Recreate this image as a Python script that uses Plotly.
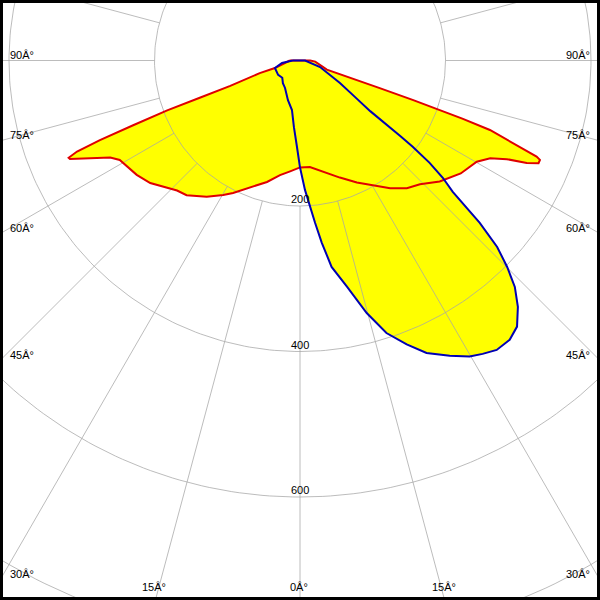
import numpy as np
import plotly.graph_objects as go

# ---------------- data (gamma in degrees, intensity in cd) ----------------
# C0-C180 plane (red), left half negative gamma
red_gamma = [-90, -80.5, -73.3, -72.6, -70.0, -69.6, -69.4, -68.8, -68.3, -67.8, -67.2, -66.8,
             -65.6, -62.9, -61.1, -58.7, -55.0, -50.7, -47.3, -43.4, -40.1, -34.4, -29.7,
             -26.8, -15.2, -9.9, -5.1, 0, 5.3, 11.7, 18.8, 25.0, 30.2, 35.2, 39.9, 44.1, 49.1,
             54.9, 60.2, 62.8, 64.5, 65.7, 66.7, 67.5, 67.9, 68.5, 69.9, 70.3, 70.5, 70.7,
             70.9, 71.2, 86, 90]
red_cd = [14, 21, 36, 58, 102, 147, 195, 246, 296, 331, 345, 344,
          327, 293, 283, 279, 274, 266, 256, 246, 242, 227, 213,
          204, 173, 160, 153, 147, 147, 156, 170, 185, 199, 215, 229, 237, 254,
          270, 280, 294, 315, 342, 357, 357, 351, 325, 278, 237, 201, 164,
          116, 39, 21, 14]

# C90-C270 plane (blue)
blue_gamma = [-90, -82, -73.3, -56.6, -45.8, -37.1, -28.6, -20.6, -16.9, -9.2, -5.2, -2.0, 0,
              2.2, 3.9, 5.3, 6.8, 8.7, 11.7, 14.8, 17.6, 20.6, 23.4, 26.9, 29.8, 31.9, 34.2,
              36.9, 39.2, 41.5, 43.5, 45.1, 46.6, 47.9, 49.3, 50.6, 51.7, 52.6, 53.0, 53.7,
              54.2, 56.4, 60.6, 72, 86, 90]
blue_cd = [10, 25, 36, 36, 34, 39, 43, 51, 57, 69, 92, 119, 147,
           178, 201, 224, 252, 287, 317, 359, 393, 417, 438, 455, 469, 475, 481,
           480, 472, 452, 429, 402, 373, 333, 277, 254, 227, 195, 172, 145,
           119, 91, 63, 29, 10, 7]

ring_values = [200, 400, 600, 800]
ring_labels = ["200", "400", "600"]
spoke_angles = list(range(0, 360, 15))
side_angles = [90, 75, 60, 45, 30]
side_labels = ["90Â°", "75Â°", "60Â°", "45Â°", "30Â°"]
bottom_angles = [-15, 0, 15]
bottom_labels = ["15Â°", "0Â°", "15Â°"]

# ---------------- layout geometry ----------------
W, H = 600, 600
PX = 0.7275          # pixels per cd
CX, CY = 300, 60.5   # pixel position of the origin
XR = [-CX / PX, (W - CX) / PX]
YR = [-(H - CY) / PX, CY / PX]


def to_xy(g, r):
    a = np.radians(np.asarray(g, dtype=float))
    r = np.asarray(r, dtype=float)
    return r * np.sin(a), -r * np.cos(a)


rx, ry = to_xy(red_gamma, red_cd)
bx, by = to_xy(blue_gamma, blue_cd)
rxc, ryc = np.append(rx, rx[0]), np.append(ry, ry[0])
bxc, byc = np.append(bx, bx[0]), np.append(by, by[0])

# grid
gx, gy = [], []
t = np.linspace(0, 360, 361)
for R in ring_values:
    cx, cy = to_xy(t, np.full_like(t, R))
    gx += list(cx) + [None]
    gy += list(cy) + [None]
for a in spoke_angles:
    sx, sy = to_xy([a, a], [ring_values[0], 1500])
    gx += list(sx) + [None]
    gy += list(sy) + [None]

fig = go.Figure()
fig.add_trace(go.Scatter(x=rxc, y=ryc, mode="lines", fill="toself", fillcolor="#ffff00",
                         line=dict(width=0, color="#ffff00"), hoverinfo="skip"))
fig.add_trace(go.Scatter(x=bxc, y=byc, mode="lines", fill="toself", fillcolor="#ffff00",
                         line=dict(width=0, color="#ffff00"), hoverinfo="skip"))
fig.add_trace(go.Scatter(x=gx, y=gy, mode="lines",
                         line=dict(width=1, color="rgba(165,165,165,0.75)"), hoverinfo="skip"))
fig.add_trace(go.Scatter(x=rxc, y=ryc, mode="lines", line=dict(width=2, color="#e00000"),
                         hoverinfo="skip"))
fig.add_trace(go.Scatter(x=bxc, y=byc, mode="lines", line=dict(width=2, color="#0000b4"),
                         hoverinfo="skip"))

font = dict(family="Liberation Sans, Arial, sans-serif", size=11, color="#000000")
ann = []
# ring labels
for R, lab in zip(ring_values, ring_labels):
    ann.append(dict(x=0, y=-R, text=lab, showarrow=False, xanchor="center", yanchor="middle",
                    yshift=7, font=font))
# side labels (where spokes meet the left / right edges)
for a, lab in zip(side_angles, side_labels):
    a_r = np.radians(a)
    y_edge = -XR[1] * np.cos(a_r) / np.sin(a_r)
    ann.append(dict(x=XR[0], y=y_edge, text=lab, showarrow=False, xanchor="left",
                    yanchor="middle", xshift=8, yshift=6, font=font))
    ann.append(dict(x=XR[1], y=y_edge, text=lab, showarrow=False, xanchor="right",
                    yanchor="middle", xshift=-8, yshift=6, font=font))
# bottom labels
for a, lab in zip(bottom_angles, bottom_labels):
    x_edge = -YR[0] * np.tan(np.radians(a))
    ann.append(dict(x=x_edge, y=YR[0], text=lab, showarrow=False, xanchor="center",
                    yanchor="middle", yshift=13, xshift=-1, font=font))

fig.update_layout(
    width=W, height=H, margin=dict(l=0, r=0, t=0, b=0),
    paper_bgcolor="white", plot_bgcolor="white", showlegend=False,
    xaxis=dict(range=XR, visible=False, fixedrange=True),
    yaxis=dict(range=YR, visible=False, fixedrange=True),
    annotations=ann,
    shapes=[dict(type="rect", xref="paper", yref="paper", x0=0, y0=0, x1=1, y1=1,
                 line=dict(color="black", width=6), layer="above")],
)

fig.write_html("out.html", config={"displayModeBar": False},
               post_script="document.body.style.margin='0';document.body.style.overflow='hidden';")
